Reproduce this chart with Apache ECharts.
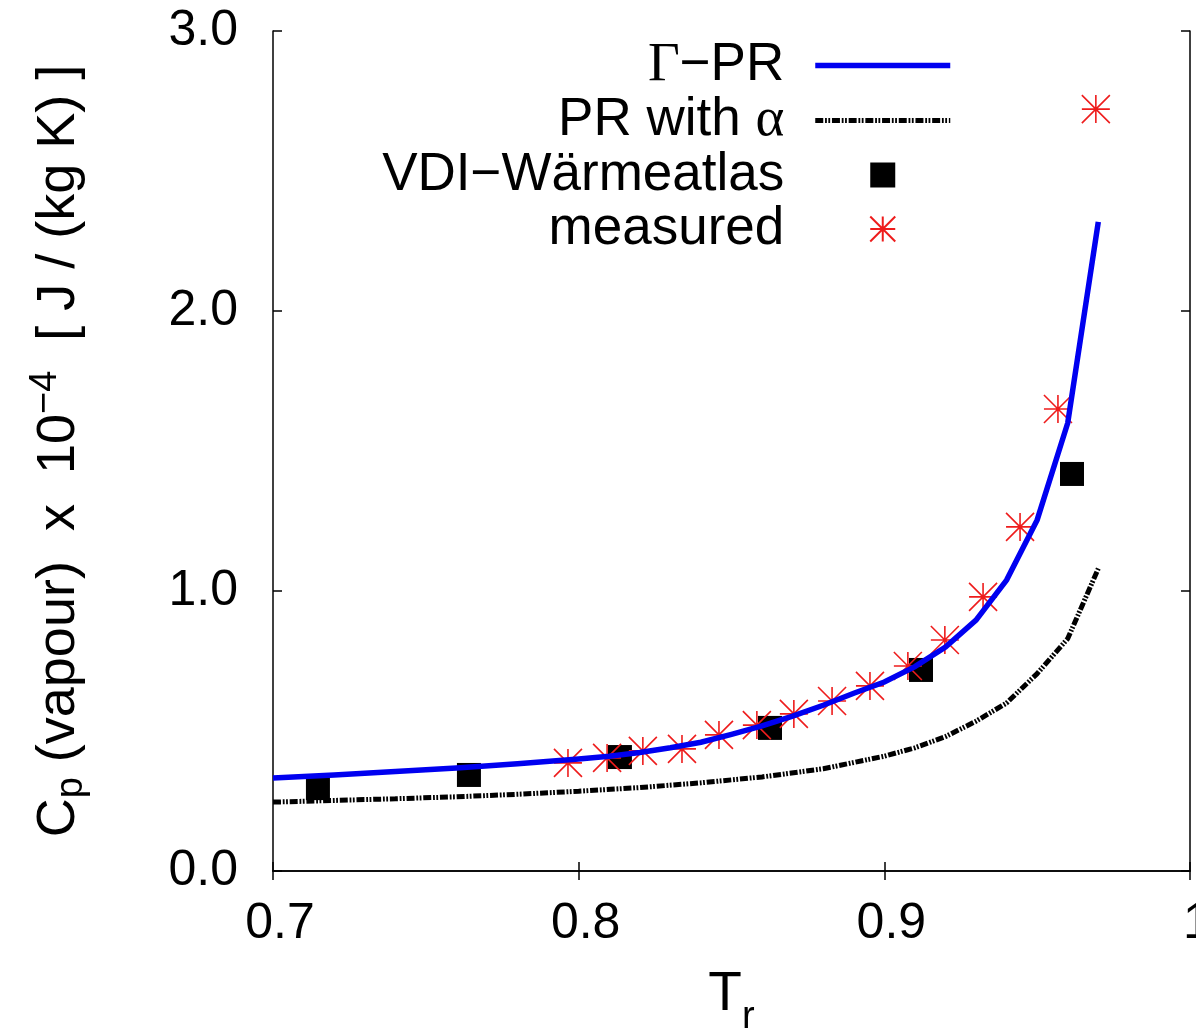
<!DOCTYPE html>
<html>
<head>
<meta charset="utf-8">
<script src="https://cdn.jsdelivr.net/npm/echarts@6/dist/echarts.min.js"></script>
<style>html,body{margin:0;padding:0;background:#fff;overflow:hidden}#c{position:absolute;left:0;top:0;width:1196px;height:1031px}</style>
</head>
<body>
<div id="c"></div>
<script>
// Γ−PR model curve
const gammaT = [0.70, 0.72, 0.74, 0.76, 0.78, 0.80, 0.81, 0.82, 0.83, 0.84, 0.85, 0.86, 0.87, 0.88, 0.89, 0.90, 0.91, 0.92, 0.93, 0.94, 0.95, 0.96, 0.97];
const gammaV = [0.332, 0.343, 0.355, 0.368, 0.383, 0.400, 0.410, 0.423, 0.440, 0.460, 0.488, 0.518, 0.553, 0.592, 0.635, 0.675, 0.730, 0.800, 0.896, 1.039, 1.254, 1.600, 2.318];
// PR with α model curve
const alphaT = [0.70, 0.72, 0.74, 0.76, 0.78, 0.80, 0.82, 0.84, 0.86, 0.88, 0.90, 0.91, 0.92, 0.93, 0.94, 0.95, 0.96, 0.97];
const alphaV = [0.246, 0.252, 0.258, 0.265, 0.274, 0.285, 0.298, 0.315, 0.336, 0.365, 0.410, 0.440, 0.480, 0.535, 0.600, 0.705, 0.830, 1.080];
// VDI-Wärmeatlas
const vdiT = [0.7147, 0.7641, 0.8135, 0.8626, 0.9120, 0.9614];
const vdiV = [0.296, 0.343, 0.407, 0.511, 0.718, 1.418];
// measured
const measT = [0.7965, 0.8093, 0.8210, 0.8338, 0.8459, 0.8583, 0.8704, 0.8829, 0.8953, 0.9077, 0.9198, 0.9323, 0.9444, 0.9568, 0.9692];
const measV = [0.386, 0.404, 0.429, 0.436, 0.486, 0.521, 0.561, 0.607, 0.661, 0.732, 0.825, 0.979, 1.229, 1.650, 2.721];
// tick labels
const xTickValues = [0.7, 0.8, 0.9, 1.0];
const xTickLabels = ['0.7', '0.8', '0.9', '1'];
const yTickValues = [0, 1, 2, 3];
const yTickLabels = ['0.0', '1.0', '2.0', '3.0'];
const seriesNames = ['Γ−PR', 'PR with α', 'VDI−Wärmeatlas', 'measured'];

const zip = (a, b) => a.map((v, i) => [v, b[i]]);
const FONT = 'Liberation Sans';
const BLUE = '#0000f0';
const RED = '#ee1c1c';
const starPath = 'path://M0 0 L20 20 M0 20 L20 0 M10 0 L10 20 M0 10 L20 10';
const squarePath = 'path://M0 0 L20 0 L20 20 L0 20 Z';
const dashPattern = [8, 1.8, 1.8, 1.5, 1.8, 1.8];
const hiddenSymbol = { color: 'rgba(0,0,0,0)', borderWidth: 0, opacity: 0 };

function xLabel(v) {
  const i = xTickValues.findIndex(t => Math.abs(t - v) < 1e-6);
  return i >= 0 ? xTickLabels[i] : '';
}
function yLabel(v) {
  const i = yTickValues.findIndex(t => Math.abs(t - v) < 1e-6);
  return i >= 0 ? yTickLabels[i] : '';
}

const axisLine = { show: true, lineStyle: { color: '#000', width: 1.5 } };
const axisTick = { show: true, inside: true, length: 9, lineStyle: { color: '#000', width: 1.5 } };

const chart = echarts.init(document.getElementById('c'), null, { renderer: 'canvas', width: 1196, height: 1031 });
chart.setOption({
  backgroundColor: '#fff',
  animation: false,
  grid: { left: 273, top: 31, width: 917, height: 840, containLabel: false, outerBoundsMode: 'none' },
  legend: {
    data: [
      { name: seriesNames[0], itemStyle: hiddenSymbol, lineStyle: { width: 5.5, color: BLUE } },
      { name: seriesNames[1], itemStyle: hiddenSymbol, lineStyle: { width: 5, color: '#000', type: dashPattern } },
      { name: seriesNames[2], icon: squarePath },
      { name: seriesNames[3], icon: starPath }
    ],
    orient: 'vertical',
    align: 'right',
    right: 243,
    top: 38,
    padding: 0,
    itemGap: 0,
    itemWidth: 135,
    itemHeight: 25,
    symbolKeepAspect: true,
    selectedMode: false,
    formatter: n => n.replace('Γ', '{s|Γ}').replace('α', '{s|α}'),
    textStyle: {
      fontFamily: FONT, fontSize: 53, color: '#000', lineHeight: 54, padding: [0, 26, 0, 0],
      rich: { s: { fontFamily: 'Liberation Serif', fontSize: 55, color: '#000', lineHeight: 54 } }
    }
  },
  xAxis: [{
    type: 'value', min: 0.7, max: 1.0, interval: 0.1, position: 'bottom',
    axisLine, axisTick, splitLine: { show: false },
    axisLabel: { formatter: xLabel, fontFamily: FONT, fontSize: 50, color: '#000', margin: 28, padding: [0, 0, 0, 14] },
    name: '{a|T}{b|r}', nameLocation: 'middle', nameGap: 96,
    nameTextStyle: { rich: {
      a: { fontFamily: FONT, fontSize: 55, color: '#000', lineHeight: 70, verticalAlign: 'top' },
      b: { fontFamily: FONT, fontSize: 38, color: '#000', lineHeight: 38, verticalAlign: 'bottom' }
    } }
  }, {
    type: 'value', min: 0.7, max: 1.0, interval: 0.1, position: 'top',
    axisLine, axisTick, splitLine: { show: false }, axisLabel: { show: false }
  }],
  yAxis: [{
    type: 'value', min: 0, max: 3, interval: 1, position: 'left',
    axisLine, axisTick, splitLine: { show: false },
    axisLabel: { formatter: yLabel, fontFamily: FONT, fontSize: 50, color: '#000', margin: 35 },
    name: '{a|C}{b|p}{a| (vapour)  x  10}{c|−4}{a|  [ J / (kg K) ]}',
    nameLocation: 'middle', nameRotate: 90, nameGap: 182,
    nameTextStyle: { rich: {
      a: { fontFamily: FONT, fontSize: 54, color: '#000', lineHeight: 64, verticalAlign: 'middle' },
      b: { fontFamily: FONT, fontSize: 38, color: '#000', lineHeight: 38, verticalAlign: 'bottom' },
      c: { fontFamily: FONT, fontSize: 38, color: '#000', lineHeight: 38, verticalAlign: 'top' }
    } }
  }, {
    type: 'value', min: 0, max: 3, interval: 1, position: 'right',
    axisLine, axisTick, splitLine: { show: false }, axisLabel: { show: false }
  }],
  series: [
    {
      name: seriesNames[0], type: 'line', data: zip(gammaT, gammaV),
      showSymbol: false, symbol: 'none',
      lineStyle: { color: BLUE, width: 5.5, cap: 'butt', join: 'miter' },
      itemStyle: { color: BLUE }
    },
    {
      name: seriesNames[1], type: 'line', data: zip(alphaT, alphaV),
      showSymbol: false, symbol: 'none',
      lineStyle: { color: '#000', width: 5, type: dashPattern, cap: 'butt' },
      itemStyle: { color: '#000' }
    },
    {
      name: seriesNames[2], type: 'scatter', data: zip(vdiT, vdiV),
      symbol: 'rect', symbolSize: 24,
      itemStyle: { color: '#000', opacity: 1 }
    },
    {
      name: seriesNames[3], type: 'scatter', data: zip(measT, measV),
      symbol: starPath, symbolSize: 28,
      itemStyle: { color: 'rgba(0,0,0,0)', borderColor: RED, borderWidth: 1.6, opacity: 1 }
    }
  ]
});
</script>
</body>
</html>
